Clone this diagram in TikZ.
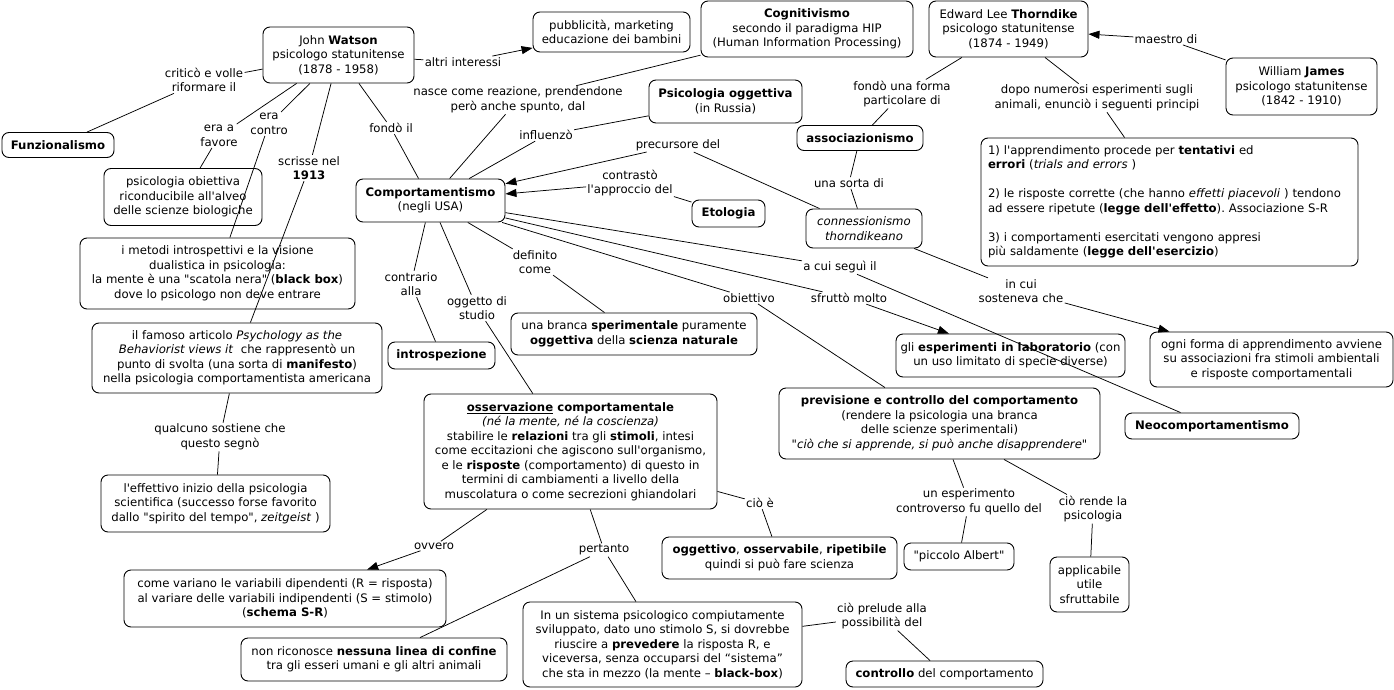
\documentclass[tikz,border=0pt]{standalone}
\usepackage{fontspec}
\setmainfont{DejaVu Sans}[Ligatures=TeXOff]
\usetikzlibrary{arrows.meta}
\frenchspacing
\begin{document}
\begin{tikzpicture}[x=1pt,y=-1pt,font=\fontsize{11.7}{14.5}\selectfont,
 box/.style={draw, line width=0.9pt, rounded corners=7pt, align=center, inner sep=2pt, fill=white},
 bx/.style 2 args={box, minimum width=#1pt, minimum height=#2pt},
 lab/.style={align=center, inner sep=1.2pt},
 con/.style={line width=0.75pt},
 arr/.style={con, -{Triangle[length=11pt,width=8pt]}}]
\useasboundingbox[fill=white] (0,0) rectangle (1394,690);
% concept boxes
\node[bx={151}{56}] (watson) at (338.5,55) {John \textbf{Watson}\\psicologo statunitense\\(1878 - 1958)};
\node[bx={112}{25}] (funz) at (58,145) {\textbf{Funzionalismo}};
\node[bx={158}{57}] (pobi) at (183,197) {psicologia obiettiva\\riconducibile all'alveo\\delle scienze biologiche};
\node[bx={149}{43}] (comp) at (430.5,200.5) {\textbf{Comportamentismo}\\(negli USA)};
\node[bx={157}{40}] (pubb) at (611.5,32) {pubblicità, marketing\\educazione dei bambini};
\node[bx={212}{56}] (cogn) at (807,29) {\textbf{Cognitivismo}\\secondo il paradigma HIP\\(Human Information Processing)};
\node[bx={153}{43}] (psog) at (725.5,101.5) {\textbf{Psicologia oggettiva}\\(in Russia)};
\node[bx={126}{25}] (assoc) at (860,138) {\textbf{associazionismo}};
\node[bx={73}{27}] (etol) at (728.5,213.5) {\textbf{Etologia}};
\node[bx={116}{39}] (conn) at (864,228.5) {\textit{connessionismo}\\\textit{thorndikeano}};
\node[bx={159}{56}] (thor) at (1008.5,29) {Edward Lee \textbf{Thorndike}\\psicologo statunitense\\(1874 - 1949)};
\node[bx={151}{57}] (james) at (1301.5,86.5) {William \textbf{James}\\psicologo statunitense\\(1842 - 1910)};
\node[box, align=left, text width=363pt, inner xsep=7pt, minimum height=128pt] (princ) at (1169.5,202) {1) l'apprendimento procede per \textbf{tentativi} ed\\\textbf{errori} (\textit{trials and errors} )\\[14.5pt]2) le risposte corrette (che hanno \textit{effetti piacevoli} ) tendono\\ad essere ripetute (\textbf{legge dell'effetto}). Associazione S-R\\[14.5pt]3) i comportamenti esercitati vengono appresi\\più saldamente (\textbf{legge dell'esercizio})};
\node[bx={275}{71}] (metodi) at (217.5,273.5) {i metodi introspettivi e la visione\\dualistica in psicologia:\\la mente è una "scatola nera" (\textbf{black box})\\dove lo psicologo non deve entrare};
\node[bx={290}{70}] (famoso) at (237,358) {il famoso articolo \textit{Psychology as the}\\\textit{Behaviorist views it}\ \ che rappresentò un\\punto di svolta (una sorta di \textbf{manifesto})\\nella psicologia comportamentista americana};
\node[bx={107}{27}] (intro) at (441.5,355.5) {\textbf{introspezione}};
\node[bx={246}{42}] (branca) at (634,334) {una branca \textbf{sperimentale} puramente\\\textbf{oggettiva} della \textbf{scienza naturale}};
\node[bx={293}{115}] (oss) at (570.5,451.5) {\textbf{\underline{osservazione} comportamentale}\\\textit{(né la mente, né la coscienza)}\\stabilire le \textbf{relazioni} tra gli \textbf{stimoli}, intesi\\come eccitazioni che agiscono sull'organismo,\\e le \textbf{risposte} (comportamento) di questo in\\termini di cambiamenti a livello della\\muscolatura o come secrezioni ghiandolari};
\node[bx={321}{71}] (prev) at (939.5,423.5) {\textbf{previsione e controllo del comportamento}\\(rendere la psicologia una branca\\delle scienze sperimentali)\\\textit{"ciò che si apprende, si può anche disapprendere"}};
\node[bx={229}{43}] (esper) at (1010.5,355.5) {gli \textbf{esperimenti in laboratorio} (con\\un uso limitato di specie diverse)};
\node[bx={243}{55}] (ogni) at (1271.5,359.5) {ogni forma di apprendimento avviene\\su associazioni fra stimoli ambientali\\e risposte comportamentali};
\node[bx={174}{26}] (neo) at (1212,426) {\textbf{Neocomportamentismo}};
\node[bx={229}{57}] (eff) at (215.5,503.5) {l'effettivo inizio della psicologia\\scientifica (successo forse favorito\\dallo "spirito del tempo", \textit{zeitgeist} )};
\node[bx={322}{57}] (var) at (285,598.5) {come variano le variabili dipendenti (R = risposta)\\al variare delle variabili indipendenti (S = stimolo)\\(\textbf{schema S-R})};
\node[bx={266}{43}] (nonric) at (374,659.5) {non riconosce \textbf{nessuna linea di confine}\\tra gli esseri umani e gli altri animali};
\node[bx={235}{42}] (oggv) at (779.5,558) {\textbf{oggettivo}, \textbf{osservabile}, \textbf{ripetibile}\\quindi si può fare scienza};
\node[bx={279}{85}] (sist) at (662.5,644.5) {In un sistema psicologico compiutamente\\sviluppato, dato uno stimolo S, si dovrebbe\\riuscire a \textbf{prevedere} la risposta R, e\\viceversa, senza occuparsi del “sistema”\\che sta in mezzo (la mente – \textbf{black-box})};
\node[bx={197}{26}] (ctrl) at (944.5,674) {\textbf{controllo} del comportamento};
\node[bx={110}{27}] (albert) at (959,556.5) {"piccolo Albert"};
\node[bx={79}{55}] (appl) at (1089.5,584.5) {applicabile\\utile\\sfruttabile};
% linking phrases
\node[lab] (lcrit) at (204,80) {criticò e volle\\riformare il};
\node[lab] (laltri) at (463,62) {altri interessi};
\node[lab] (lnasce) at (518,100) {nasce come reazione, prendendone\\però anche spunto, dal};
\node[lab] (lfavore) at (219,136) {era a\\favore};
\node[lab] (lcontro) at (269,124) {era\\contro};
\node[lab] (lfondo) at (391,128) {fondò il};
\node[lab] (lscrisse) at (309,168) {scrisse nel\\\textbf{1913}};
\node[lab] (linfl) at (546,135) {influenzò};
\node[lab] (lprec) at (678,145) {precursore del};
\node[lab] (lcontr) at (630,183) {contrastò\\l'approccio del};
\node[lab] (lfondob) at (902,94) {fondò una forma\\particolare di};
\node[lab] (lsorta) at (849,183) {una sorta di};
\node[lab] (lmaestro) at (1166,39) {maestro di};
\node[lab] (ldopo) at (1097,98) {dopo numerosi esperimenti sugli\\animali, enunciò i seguenti principi};
\node[lab] (lcontrario) at (411,284) {contrario\\alla};
\node[lab] (logg) at (477,308) {oggetto di\\studio};
\node[lab] (ldef) at (535,262) {definito\\come};
\node[lab] (lobi) at (749,298) {obiettivo};
\node[lab] (lsfr) at (849,298) {sfruttò molto};
\node[lab] (lseg) at (840,267) {a cui seguì il};
\node[lab] (lincui) at (1021,291) {in cui\\sosteneva che};
\node[lab] (lqual) at (220,437) {qualcuno sostiene che\\questo segnò};
\node[lab] (lcioe) at (760,503) {ciò è};
\node[lab] (lovv) at (434,546) {ovvero};
\node[lab] (lpert) at (604,550) {pertanto};
\node[lab] (lprel) at (882,616) {ciò prelude alla\\possibilità del};
\node[lab] (lesp) at (969,502) {un esperimento\\controverso fu quello del};
\node[lab] (lrende) at (1093,509) {ciò rende la\\psicologia};
% connectors
\draw[con] (watson) -- (lcrit) -- (funz);
\draw[arr] (watson) -- (laltri) -- (pubb);
\draw[con] (watson) -- (lfavore) -- (pobi);
\draw[con] (watson) -- (lcontro) -- (metodi);
\draw[con] (watson) -- (lscrisse) -- (famoso);
\draw[con] (watson) -- (lfondo) -- (comp);
\draw[con] (cogn) -- (lnasce) -- (comp);
\draw[con] (psog) -- (linfl) -- (comp);
\draw[arr] (conn) -- (lprec) -- (comp);
\draw[arr] (etol) -- (lcontr) -- (comp);
\draw[con] (thor) -- (lfondob) -- (assoc);
\draw[con] (assoc) -- (lsorta) -- (conn);
\draw[con] (thor) -- (ldopo) -- (princ);
\draw[arr] (james) -- (lmaestro) -- (thor);
\draw[arr] (conn) -- (lincui) -- (ogni);
\draw[con] (comp) -- (lcontrario) -- (intro);
\draw[con] (comp) -- (logg) -- (oss);
\draw[con] (comp) -- (ldef) -- (branca);
\draw[con] (comp) -- (lobi) -- (prev);
\draw[arr] (comp) -- (lsfr) -- (esper);
\draw[con] (comp) -- (lseg) -- (neo);
\draw[con] (famoso) -- (lqual) -- (eff);
\draw[con] (oss) -- (lcioe) -- (oggv);
\draw[arr] (oss) -- (lovv) -- (var);
\draw[con] (oss) -- (lpert) -- (nonric);
\draw[con] (lpert) -- (sist);
\draw[con] (sist) -- (lprel) -- (ctrl);
\draw[con] (prev) -- (lesp) -- (albert);
\draw[con] (prev) -- (lrende) -- (appl);
\end{tikzpicture}
\end{document}
